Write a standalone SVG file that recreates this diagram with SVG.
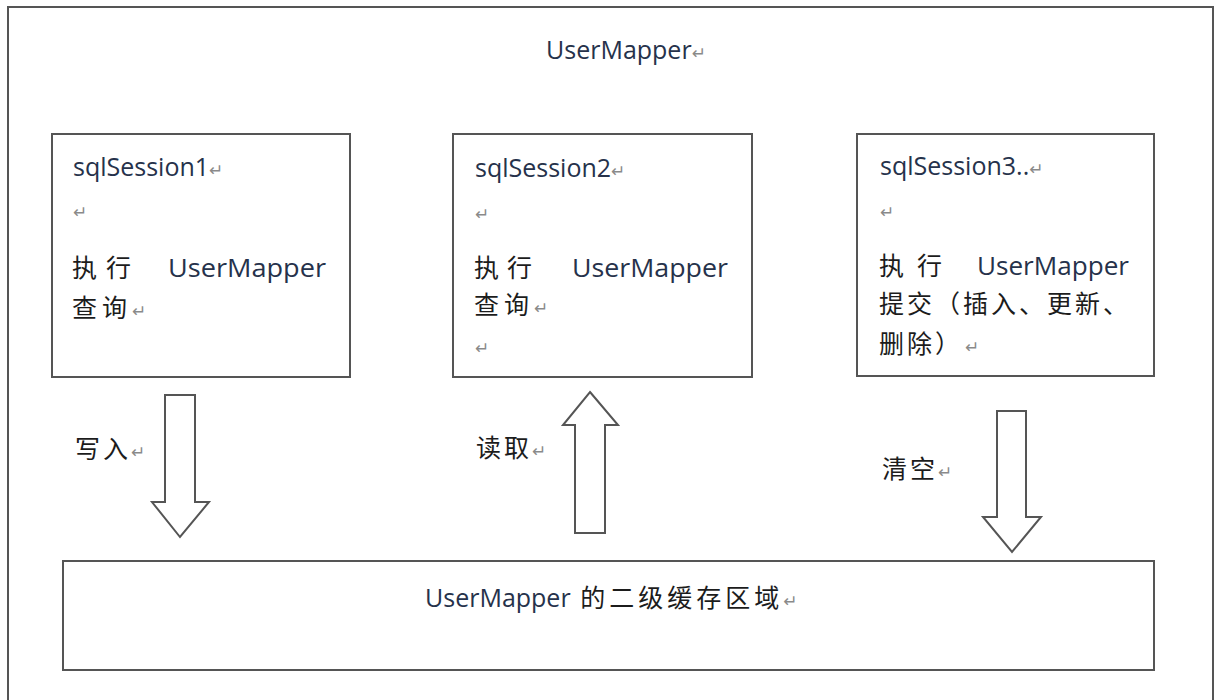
<svg xmlns="http://www.w3.org/2000/svg" width="1216" height="700" viewBox="0 0 1216 700">
<style>
.box{fill:#fff;stroke:#555;stroke-width:2}
.arrow{fill:#fff;stroke:#555;stroke-width:2;stroke-linejoin:miter}
.lat{font-family:"Open Sans","Noto Sans",sans-serif;font-size:25px;fill:#26324b}
.cjk{font-family:"Noto Sans CJK SC","Noto Sans",sans-serif;font-size:25px;fill:#1c1c1c}
.ret{font-family:"DejaVu Sans",sans-serif;font-size:17px;fill:#8a8a8a}
</style>
<rect width="1216" height="700" fill="#fff"/>
<g id="outer">
<rect class="box" x="8" y="7" width="1205" height="720"/>
<text class="lat" x="546" y="59">UserMapper<tspan class="ret">↵</tspan></text>
</g>
<g id="session1">
<rect class="box" x="52" y="134" width="298" height="243"/>
<text class="lat" x="73" y="176">sqlSession1<tspan class="ret">↵</tspan></text>
<text class="ret" x="73" y="218">↵</text>
<text class="cjk" x="72" y="277">执</text>
<text class="cjk" x="106" y="277">行</text>
<text class="lat" x="168" y="277" textLength="158" lengthAdjust="spacingAndGlyphs">UserMapper</text>
<text class="cjk" x="72" y="317" letter-spacing="5">查询<tspan class="ret" letter-spacing="0">↵</tspan></text>
</g>
<g id="session2">
<rect class="box" x="453" y="134" width="299" height="243"/>
<text class="lat" x="475" y="177">sqlSession2<tspan class="ret">↵</tspan></text>
<text class="ret" x="475" y="220">↵</text>
<text class="cjk" x="474" y="277">执</text>
<text class="cjk" x="507" y="277">行</text>
<text class="lat" x="572" y="277" textLength="156" lengthAdjust="spacingAndGlyphs">UserMapper</text>
<text class="cjk" x="474" y="314" letter-spacing="5">查询<tspan class="ret" letter-spacing="0">↵</tspan></text>
<text class="ret" x="475" y="354">↵</text>
</g>
<g id="session3">
<rect class="box" x="857" y="134" width="297" height="242"/>
<text class="lat" x="880" y="175">sqlSession3..<tspan class="ret">↵</tspan></text>
<text class="ret" x="880" y="218">↵</text>
<text class="cjk" x="879" y="275">执</text>
<text class="cjk" x="917" y="275">行</text>
<text class="lat" x="977" y="275" textLength="152" lengthAdjust="spacingAndGlyphs">UserMapper</text>
<text class="cjk" x="879" y="313" letter-spacing="3">提交（插入、更新、</text>
<text class="cjk" x="879" y="353" letter-spacing="3">删除）<tspan class="ret" letter-spacing="0" dx="2">↵</tspan></text>
</g>
<g id="cache">
<rect class="box" x="63" y="561" width="1091" height="109"/>
<text class="lat" x="425" y="607">UserMapper<tspan class="cjk" letter-spacing="4"> 的二级缓存区域</tspan><tspan class="ret">↵</tspan></text>
</g>
<g id="connectors">
<g id="write">
<polygon class="arrow" points="165,395 195,395 195,502 209,502 180,537 152,502 165,502"/>
<text class="cjk" x="75" y="458" letter-spacing="3">写入<tspan class="ret" letter-spacing="0">↵</tspan></text>
</g>
<g id="read">
<polygon class="arrow" points="590,392 618,425 605,425 605,533 575,533 575,425 563,425"/>
<text class="cjk" x="476" y="457" letter-spacing="3">读取<tspan class="ret" letter-spacing="0">↵</tspan></text>
</g>
<g id="clear">
<polygon class="arrow" points="997,411 1026,411 1026,517 1041,517 1012,552 983,517 997,517"/>
<text class="cjk" x="882" y="478" letter-spacing="3">清空<tspan class="ret" letter-spacing="0">↵</tspan></text>
</g>
</g>
</svg>
